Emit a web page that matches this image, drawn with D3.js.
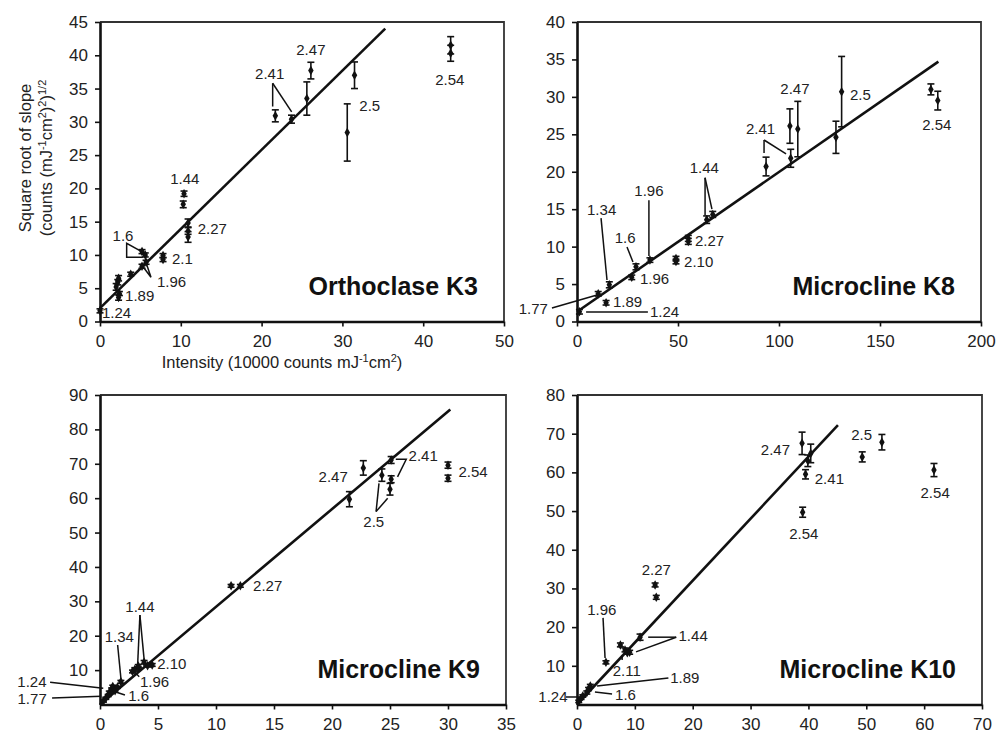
<!DOCTYPE html>
<html>
<head>
<meta charset="utf-8">
<script src="https://cdn.jsdelivr.net/npm/d3@7"></script>
<style>
  body { margin: 0; background: #fff; }
  text { font-family: "Liberation Sans", Arial, sans-serif; fill: #222; }
</style>
</head>
<body>
<svg id="chart" width="996" height="733"></svg>
<script>
// ---- Orthoclase K3 ----
var k3X   = [0, 2.0, 2.2, 2.3, 2.4, 2.3, 3.8, 5.2, 5.6, 5.2, 5.7, 7.8, 7.8, 10.4, 10.3, 10.9, 10.9, 10.9, 21.7, 23.7, 26.1, 25.6, 31.5, 30.6, 43.4, 43.4];
var k3Y   = [1.6, 5.2, 5.9, 6.5, 4.2, 3.6, 7.1, 10.5, 10.0, 8.3, 8.9, 9.9, 9.3, 19.2, 17.6, 14.8, 13.6, 12.7, 30.9, 30.4, 37.7, 33.5, 37.0, 28.4, 41.5, 40.3];
var k3Err = [0.3, 0.5, 0.4, 0.4, 0.3, 0.4, 0.3, 0.3, 0.3, 0.3, 0.3, 0.3, 0.3, 0.4, 0.5, 0.6, 0.5, 0.8, 0.9, 0.6, 1.25, 2.5, 2.0, 4.3, 1.3, 1.2];
var k3Fit = [[0, 2.0], [35.3, 44.0]];
var k3XTicks = [0, 10, 20, 30, 40, 50];
var k3YTicks = [0, 5, 10, 15, 20, 25, 30, 35, 40, 45];
var k3Notes = [["1.24", 0.25, 1.3, "start"], ["1.89", 3.1, 3.9, "start"], ["1.96", 7.05, 6.0, "start"],
  ["2.1", 8.9, 9.4, "start"], ["2.27", 12.1, 14.0, "start"], ["1.44", 10.5, 21.4, "middle"],
  ["1.6", 2.85, 12.9, "middle"], ["2.41", 21.0, 37.2, "middle"], ["2.47", 26.1, 40.8, "middle"],
  ["2.5", 32.1, 32.5, "start"], ["2.54", 43.3, 36.4, "middle"]];
var k3Leaders = [[[21.37, 35.8], [21.37, 32.3]], [[21.37, 35.8], [23.72, 31.5]],
  [[5.16, 10.5], [3.3, 11.75], [3.3, 9.65], [5.3, 9.65]],
  [[5.16, 8.49], [6.31, 6.64], [5.66, 8.98]]];

// ---- Microcline K8 ----
var k8X   = [1.2, 10.5, 14.4, 16.0, 27.1, 29.2, 36.1, 49.0, 49.0, 55.1, 55.1, 64.2, 67.2, 93.6, 105.8, 105.4, 109.3, 131.0, 128.2, 175.2, 178.6];
var k8Y   = [1.3, 3.7, 2.5, 4.9, 5.9, 7.3, 8.2, 8.4, 8.0, 11.1, 10.7, 13.6, 14.3, 20.7, 21.8, 26.1, 25.7, 30.7, 24.6, 31.0, 29.5];
var k8Err = [0.3, 0.3, 0.3, 0.4, 0.3, 0.4, 0.3, 0.3, 0.3, 0.4, 0.4, 0.5, 0.4, 1.25, 1.2, 2.3, 3.7, 4.7, 2.15, 0.73, 1.25];
var k8Fit = [[0, 1.3], [178.9, 34.7]];
var k8XTicks = [0, 50, 100, 150, 200];
var k8YTicks = [0, 5, 10, 15, 20, 25, 30, 35, 40];
var k8Notes = [["1.24", 36.1, 1.27, "start"], ["1.77", -14.4, 1.67, "end"], ["1.89", 17.8, 2.64, "start"],
  ["1.34", 12.2, 15.0, "middle"], ["1.6", 23.8, 11.15, "middle"], ["1.96", 31.2, 5.68, "start"],
  ["1.96", 35.6, 17.5, "middle"], ["2.10", 53.0, 7.99, "start"], ["2.27", 58.4, 10.8, "start"],
  ["1.44", 63.0, 20.6, "middle"], ["2.41", 90.9, 25.8, "middle"], ["2.47", 107.9, 31.1, "middle"],
  ["2.5", 135.1, 30.3, "start"], ["2.54", 178.1, 26.3, "middle"]];
var k8Leaders = [[[4.5, 1.27], [35.1, 1.27]], [[-12.4, 1.8], [9.9, 3.54]], [[11.9, 13.8], [14.85, 5.54]],
  [[24.75, 9.95], [27.7, 7.95]], [[35.6, 16.2], [35.6, 8.75]], [[63.4, 19.2], [63.4, 14.2]],
  [[63.4, 19.2], [66.8, 15.0]], [[92.6, 24.24], [92.6, 22.5]], [[92.6, 24.24], [103.5, 22.4]]];

// ---- Microcline K9 ----
var k9X   = [0.3, 0.5, 0.7, 0.8, 1.0, 1.1, 1.3, 1.5, 1.8, 2.8, 3.0, 3.3, 3.3, 3.8, 4.1, 4.5, 11.3, 12.1, 21.5, 22.7, 24.3, 25.0, 25.1, 25.1, 30.0, 30.0];
var k9Y   = [1.0, 1.8, 2.6, 3.5, 4.4, 5.2, 4.0, 5.0, 6.6, 9.6, 10.2, 10.6, 11.2, 12.3, 11.3, 11.5, 34.5, 34.5, 59.7, 68.8, 66.7, 62.6, 71.1, 65.5, 69.6, 65.8];
var k9Err = [0.3, 0.3, 0.3, 0.4, 0.4, 0.4, 0.4, 0.3, 0.4, 0.4, 0.5, 0.3, 0.4, 0.5, 0.4, 0.4, 0.4, 0.4, 2.2, 2.1, 1.8, 1.7, 1.0, 1.0, 0.9, 0.9];
var k9Fit = [[0, 0], [30.2, 85.8]];
var k9XTicks = [0, 5, 10, 15, 20, 25, 30, 35];
var k9YTicks = [10, 20, 30, 40, 50, 60, 70, 80, 90];
var k9Notes = [["2.27", 13.2, 34.5, "start"], ["2.47", 20.1, 66.2, "middle"], ["2.5", 23.6, 53.2, "middle"],
  ["2.41", 26.6, 72.3, "start"], ["2.54", 30.9, 67.7, "start"], ["1.24", -5.87, 6.6, "middle"],
  ["1.77", -5.85, 1.6, "middle"], ["1.6", 2.43, 2.47, "start"], ["1.34", 1.66, 19.7, "middle"],
  ["1.44", 3.44, 28.6, "middle"], ["1.96", 3.44, 6.63, "start"], ["2.10", 4.93, 11.8, "start"]];
var k9Leaders = [[[23.8, 56.1], [24.05, 64.3]], [[23.8, 56.1], [24.8, 60.0]],
  [[25.5, 71.3], [26.4, 71.3], [25.65, 66.2]], [[-4.3, 6.5], [0.28, 4.7]], [[-4.13, 1.9], [0.1, 2.4]],
  [[2.15, 2.76], [1.29, 3.72]], [[1.52, 17.3], [1.81, 7.33]], [[3.44, 26.0], [3.24, 11.2]],
  [[3.44, 26.0], [3.81, 12.9]], [[3.38, 8.08], [3.1, 9.07]]];

// ---- Microcline K10 ----
var k10X   = [0.3, 0.7, 1.0, 1.7, 2.0, 2.3, 5.0, 7.5, 8.3, 8.7, 9.1, 10.9, 13.5, 13.7, 38.9, 40.4, 39.9, 39.5, 39.0, 49.3, 52.7, 61.7];
var k10Y   = [0.8, 1.6, 2.2, 3.1, 4.0, 4.8, 10.9, 15.4, 14.1, 13.4, 13.5, 17.4, 30.9, 27.7, 67.5, 64.9, 63.0, 59.5, 49.7, 64.0, 67.8, 60.6];
var k10Err = [0.3, 0.3, 0.3, 0.4, 0.4, 0.4, 0.4, 0.5, 0.5, 0.4, 0.5, 0.8, 0.5, 0.5, 2.9, 2.4, 1.5, 1.2, 1.3, 1.3, 2.0, 1.7];
var k10Fit = [[0, 0], [45.1, 72.2]];
var k10XTicks = [0, 10, 20, 30, 40, 50, 60, 70];
var k10YTicks = [10, 20, 30, 40, 50, 60, 70, 80];
var k10Notes = [["2.47", 34.3, 66.0, "middle"], ["2.41", 41.1, 58.5, "start"], ["2.54", 39.2, 44.2, "middle"],
  ["2.5", 49.2, 69.7, "middle"], ["2.54", 61.9, 54.7, "middle"], ["2.27", 13.7, 34.8, "middle"],
  ["1.96", 4.28, 24.6, "middle"], ["1.44", 17.55, 17.7, "start"], ["2.11", 8.6, 8.7, "middle"],
  ["1.89", 16.1, 7.0, "start"], ["1.6", 6.58, 2.46, "start"], ["1.24", -4.16, 1.94, "middle"]];
var k10Leaders = [[[4.5, 22.4], [4.85, 12.0]], [[17.15, 17.4], [12.3, 17.4]], [[17.15, 17.4], [10.2, 13.6]],
  [[7.8, 11.5], [7.8, 12.8]], [[15.8, 6.85], [3.47, 4.78]], [[6.06, 2.71], [3.1, 3.23]],
  [[-1.9, 1.94], [0.17, 1.94]]];

var titles = ["Orthoclase K3", "Microcline K8", "Microcline K9", "Microcline K10"];

var svg = d3.select("#chart");
var FONT = "Liberation Sans, Arial, sans-serif";

function drawPanel(p) {
    var x = d3.scaleLinear().domain([p.xTicks[0], p.xTicks[p.xTicks.length - 1]]).range([p.left, p.right]);
    var y = d3.scaleLinear().domain([0, p.yTicks[p.yTicks.length - 1]]).range([p.bottom, p.top]);
    var g = svg.append("g");

    // top / right frame
    g.append("path")
        .attr("d", "M" + p.left + "," + p.top + "H" + p.right + "V" + p.bottom)
        .attr("fill", "none")
        .attr("stroke", "#333")
        .attr("stroke-width", 1.8);

    var ax = g.append("g")
        .attr("transform", "translate(0," + p.bottom + ")")
        .call(d3.axisBottom(x).tickValues(p.xTicks).tickSizeInner(5).tickSizeOuter(0).tickPadding(8));
    var ay = g.append("g")
        .attr("transform", "translate(" + p.left + ",0)")
        .call(d3.axisLeft(y).tickValues(p.yTicks).tickSizeInner(5).tickSizeOuter(0).tickPadding(7));
    [ax, ay].forEach(function(a) {
        a.attr("font-family", FONT).attr("font-size", 17);
        a.select(".domain").attr("stroke", "#111").attr("stroke-width", 2.6);
        a.selectAll(".tick line").attr("stroke", "#111").attr("stroke-width", 1.6);
        a.selectAll(".tick text").attr("fill", "#222");
    });

    // regression line
    g.append("line")
        .attr("x1", x(p.fit[0][0])).attr("y1", y(p.fit[0][1]))
        .attr("x2", x(p.fit[1][0])).attr("y2", y(p.fit[1][1]))
        .attr("stroke", "#111")
        .attr("stroke-width", 2.6);

    var data = d3.zip(p.xs, p.ys, p.errs);

    // error bars
    var eb = g.selectAll(".eb").data(data).enter().append("g").attr("class", "eb")
        .attr("stroke", "#111").attr("stroke-width", 1.6);
    eb.append("line")
        .attr("x1", function(d) { return x(d[0]); })
        .attr("x2", function(d) { return x(d[0]); })
        .attr("y1", function(d) { return y(d[1] + d[2]); })
        .attr("y2", function(d) { return y(d[1] - d[2]); });
    [1, -1].forEach(function(s) {
        eb.append("line")
            .attr("x1", function(d) { return x(d[0]) - 3.5; })
            .attr("x2", function(d) { return x(d[0]) + 3.5; })
            .attr("y1", function(d) { return y(d[1] + s * d[2]); })
            .attr("y2", function(d) { return y(d[1] + s * d[2]); });
    });

    // diamond markers
    g.selectAll(".pt").data(data).enter().append("path")
        .attr("class", "pt")
        .attr("d", d3.symbol(d3.symbolDiamond, 26))
        .attr("transform", function(d) { return "translate(" + x(d[0]) + "," + y(d[1]) + ")"; })
        .attr("fill", "#111");

    // leader lines
    var line = d3.line().x(function(d) { return x(d[0]); }).y(function(d) { return y(d[1]); });
    g.selectAll(".leader").data(p.leaders).enter().append("path")
        .attr("class", "leader")
        .attr("d", line)
        .attr("fill", "none")
        .attr("stroke", "#111")
        .attr("stroke-width", 1.5);

    // labels
    g.selectAll(".note").data(p.notes).enter().append("text")
        .attr("class", "note")
        .attr("x", function(d) { return x(d[1]); })
        .attr("y", function(d) { return y(d[2]); })
        .attr("dy", "0.36em")
        .attr("text-anchor", function(d) { return d[3]; })
        .attr("font-size", 15)
        .text(function(d) { return d[0]; });

    g.append("text")
        .attr("x", p.right - 26)
        .attr("y", p.bottom - 27)
        .attr("text-anchor", "end")
        .attr("font-size", 25)
        .attr("font-weight", "bold")
        .style("fill", "#111")
        .text(p.title);
}

drawPanel({left: 100, right: 504, top: 22, bottom: 321.5, xTicks: k3XTicks, yTicks: k3YTicks,
    xs: k3X, ys: k3Y, errs: k3Err, fit: k3Fit, notes: k3Notes, leaders: k3Leaders, title: titles[0]});
drawPanel({left: 577, right: 981, top: 22, bottom: 321.5, xTicks: k8XTicks, yTicks: k8YTicks,
    xs: k8X, ys: k8Y, errs: k8Err, fit: k8Fit, notes: k8Notes, leaders: k8Leaders, title: titles[1]});
drawPanel({left: 100, right: 506, top: 395, bottom: 704.5, xTicks: k9XTicks, yTicks: k9YTicks,
    xs: k9X, ys: k9Y, errs: k9Err, fit: k9Fit, notes: k9Notes, leaders: k9Leaders, title: titles[2]});
drawPanel({left: 577, right: 982, top: 395, bottom: 704.5, xTicks: k10XTicks, yTicks: k10YTicks,
    xs: k10X, ys: k10Y, errs: k10Err, fit: k10Fit, notes: k10Notes, leaders: k10Leaders, title: titles[3]});

// axis titles (first panel only)
var xt = svg.append("text")
    .attr("x", 282).attr("y", 368)
    .attr("text-anchor", "middle")
    .attr("font-size", 16.5);
xt.append("tspan").text("Intensity (10000 counts mJ");
xt.append("tspan").attr("dy", -6).attr("font-size", 11).text("-1");
xt.append("tspan").attr("dy", 6).text("cm");
xt.append("tspan").attr("dy", -6).attr("font-size", 11).text("2");
xt.append("tspan").attr("dy", 6).text(")");

var yt = svg.append("g").attr("transform", "translate(0,158) rotate(-90)");
yt.append("text")
    .attr("x", 0).attr("y", 31)
    .attr("text-anchor", "middle")
    .attr("font-size", 16.5)
    .text("Square root of slope");
var yt2 = yt.append("text")
    .attr("x", 0).attr("y", 52)
    .attr("text-anchor", "middle")
    .attr("font-size", 16.5);
yt2.append("tspan").text("(counts (mJ");
yt2.append("tspan").attr("dy", -6).attr("font-size", 11).text("-1");
yt2.append("tspan").attr("dy", 6).text("cm");
yt2.append("tspan").attr("dy", -6).attr("font-size", 11).text("2");
yt2.append("tspan").attr("dy", 6).text(")");
yt2.append("tspan").attr("dy", -6).attr("font-size", 11).text("2");
yt2.append("tspan").attr("dy", 6).text(")");
yt2.append("tspan").attr("dy", -6).attr("font-size", 11).text("1/2");
</script>
</body>
</html>
